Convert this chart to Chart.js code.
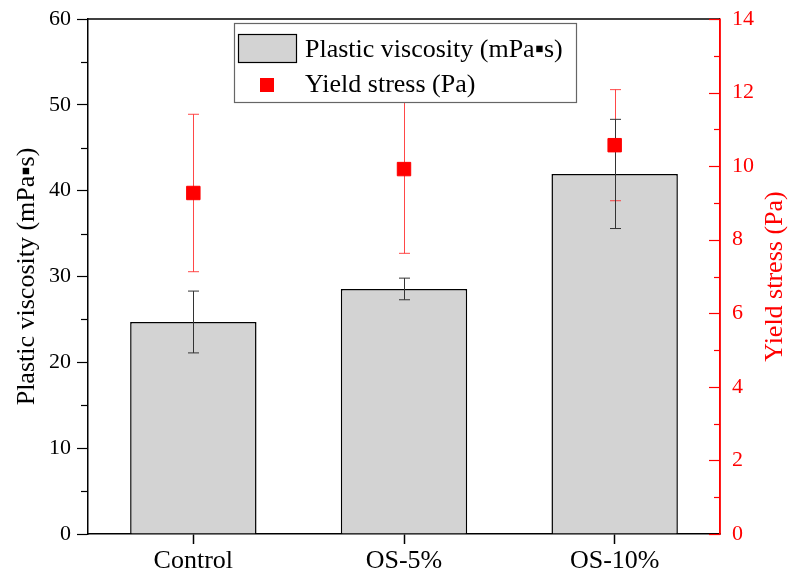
<!DOCTYPE html>
<html>
<head>
<meta charset="utf-8">
<script src="https://cdn.jsdelivr.net/npm/chart.js@4"></script>
<style>
html,body{margin:0;padding:0;background:#fff;}
#wrap{width:792px;height:576px;position:relative;}
</style>
</head>
<body>
<div id="wrap"><canvas id="c" width="792" height="576"></canvas></div>
<script>
const categories = ['Control', 'OS-5%', 'OS-10%'];
const viscosity = [24.7, 28.55, 41.95];
const viscosityErr = [3.6, 1.26, 6.36];
const yieldStress = [9.27, 9.92, 10.57];
const yieldErr = [2.14, 2.29, 1.51];
const viscLabel = 'Plastic viscosity (mPa\u25AAs)';
const yieldLabel = 'Yield stress (Pa)';

const FONT = '"Liberation Serif", "Times New Roman", serif';

function drawErr(ctx, xs, yScale, vals, errs, color, cap) {
  ctx.save();
  ctx.strokeStyle = color;
  ctx.lineWidth = 1;
  for (let i = 0; i < vals.length; i++) {
    const x = Math.round(xs[i]) + 0.5;
    const yt = yScale.getPixelForValue(vals[i] + errs[i]);
    const yb = yScale.getPixelForValue(vals[i] - errs[i]);
    ctx.beginPath();
    ctx.moveTo(x, yt); ctx.lineTo(x, yb);
    ctx.moveTo(x - cap, yt); ctx.lineTo(x + cap, yt);
    ctx.moveTo(x - cap, yb); ctx.lineTo(x + cap, yb);
    ctx.stroke();
  }
  ctx.restore();
}

const decor = {
  id: 'decor',
  afterDatasetDraw(chart, args) {
    if (args.index !== 0) return;
    const ctx = chart.ctx;
    const xs = chart.getDatasetMeta(0).data.map(e => e.x);
    drawErr(ctx, xs, chart.scales.y2, yieldStress, yieldErr, 'rgba(255,40,40,0.85)', 5.5);
    drawErr(ctx, xs, chart.scales.y, viscosity, viscosityErr, '#333333', 5.5);
  },
  afterDraw(chart) {
    const ctx = chart.ctx;
    const a = chart.chartArea;
    const y = chart.scales.y, y2 = chart.scales.y2;
    ctx.save();
    // top frame
    ctx.strokeStyle = '#000';
    ctx.lineWidth = 1.5;
    ctx.beginPath();
    ctx.moveTo(a.left, a.top); ctx.lineTo(a.right, a.top);
    ctx.stroke();
    // left minor ticks
    ctx.lineWidth = 1.2;
    for (let v = 5; v < 60; v += 10) {
      const py = Math.round(y.getPixelForValue(v)) + 0.5;
      ctx.beginPath(); ctx.moveTo(a.left - 7, py); ctx.lineTo(a.left, py); ctx.stroke();
    }
    // right inward ticks
    ctx.strokeStyle = '#ff0000';
    for (let v = 0; v <= 14; v += 1) {
      const py = Math.round(y2.getPixelForValue(v)) + 0.5;
      const len = (v % 2 === 0) ? 11 : 6;
      ctx.beginPath(); ctx.moveTo(a.right - len, py); ctx.lineTo(a.right, py); ctx.stroke();
    }
    ctx.lineWidth = 1.5;
    ctx.beginPath(); ctx.moveTo(a.right, a.top); ctx.lineTo(a.right, a.bottom); ctx.stroke();
    // right title
    ctx.fillStyle = '#ff0000';
    ctx.font = '26px ' + FONT;
    ctx.textAlign = 'center';
    ctx.textBaseline = 'middle';
    ctx.translate(775, (a.top + a.bottom) / 2);
    ctx.rotate(-Math.PI / 2);
    ctx.fillText(yieldLabel, 0, 0);
    ctx.restore();

    // legend
    ctx.save();
    ctx.fillStyle = '#fff';
    ctx.fillRect(234, 23, 342, 79);
    ctx.strokeStyle = '#666';
    ctx.lineWidth = 1.2;
    ctx.strokeRect(234.5, 23.5, 342, 79);
    ctx.fillStyle = '#d3d3d3';
    ctx.fillRect(238, 34, 59, 29);
    ctx.strokeStyle = '#000';
    ctx.lineWidth = 1.2;
    ctx.strokeRect(238.5, 34.5, 58, 28);
    ctx.fillStyle = '#ff0000';
    ctx.fillRect(260, 78, 14, 14);
    ctx.fillStyle = '#000';
    ctx.font = '26px ' + FONT;
    ctx.textAlign = 'left';
    ctx.textBaseline = 'alphabetic';
    ctx.fillText(chart.data.datasets[0].label, 305, 57);
    ctx.fillText(chart.data.datasets[1].label, 305, 92);
    ctx.restore();
  }
};

new Chart(document.getElementById('c'), {
  type: 'bar',
  data: {
    labels: categories,
    datasets: [
      {
        type: 'bar',
        label: viscLabel,
        data: viscosity,
        yAxisID: 'y',
        backgroundColor: '#d3d3d3',
        borderColor: '#000',
        borderWidth: 1.5,
        borderSkipped: 'bottom',
        categoryPercentage: 1,
        barPercentage: 0.6,
        order: 1
      },
      {
        type: 'line',
        label: yieldLabel,
        data: yieldStress,
        yAxisID: 'y2',
        showLine: false,
        pointStyle: 'rect',
        pointRadius: 9.5,
        pointBackgroundColor: '#ff0000',
        pointBorderColor: '#ff0000',
        pointBorderWidth: 1,
        order: 0
      }
    ]
  },
  options: {
    responsive: false,
    animation: false,
    events: [],
    layout: { padding: { top: 19, left: 0, right: 0, bottom: 0 } },
    plugins: { legend: { display: false }, tooltip: { enabled: false } },
    scales: {
      x: {
        type: 'category',
        offset: true,
        grid: { display: true, drawOnChartArea: false, offset: false, tickLength: 10, tickColor: '#000', tickWidth: 1.5 },
        border: { color: '#000', width: 1.5 },
        ticks: { color: '#000', font: { family: FONT, size: 26 }, padding: 2, maxRotation: 0 },
        afterFit(s) { s.height = 42; s.paddingLeft = 0; s.paddingRight = 0; }
      },
      y: {
        position: 'left',
        min: 0, max: 60,
        ticks: { stepSize: 10, color: '#000', font: { family: FONT, size: 22 }, padding: 6 },
        grid: { drawOnChartArea: false, tickLength: 11, tickColor: '#000', tickWidth: 1.2 },
        border: { color: '#000', width: 1.5 },
        title: { display: true, text: viscLabel, color: '#000', font: { family: FONT, size: 26 }, padding: { top: 12, bottom: 0 } },
        afterFit(s) { s.width = 88; s.paddingTop = 0; s.paddingBottom = 0; }
      },
      y2: {
        position: 'right',
        min: 0, max: 14,
        ticks: { stepSize: 2, color: '#ff0000', font: { family: FONT, size: 22 }, padding: 12 },
        grid: { drawOnChartArea: false, drawTicks: false },
        border: { color: '#ff0000', width: 1.5 },
        afterFit(s) { s.width = 72; s.paddingTop = 0; s.paddingBottom = 0; }
      }
    }
  },
  plugins: [decor]
});
</script>
</body>
</html>
